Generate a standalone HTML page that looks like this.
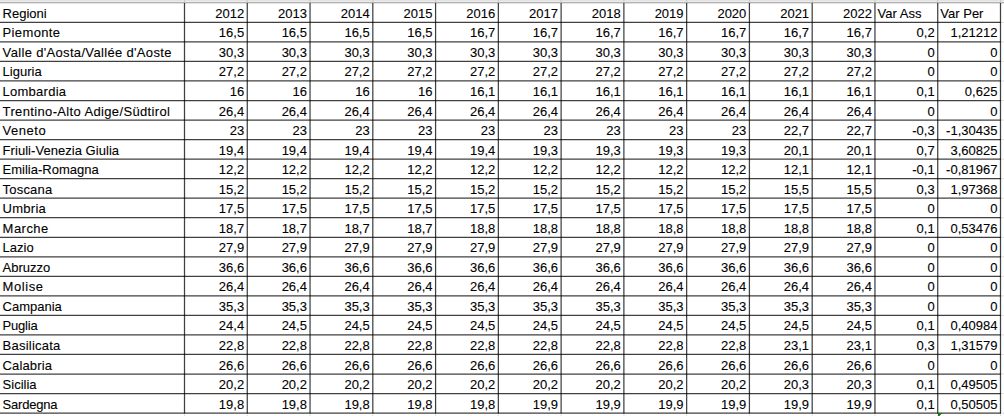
<!DOCTYPE html>
<html><head><meta charset="utf-8"><style>
html,body{margin:0;padding:0;background:#fff;}
body{width:1004px;height:416px;overflow:hidden;position:relative;}
svg{position:absolute;left:0;top:0;}
.t{position:absolute;font-family:"Liberation Sans",sans-serif;font-size:13px;color:#000;white-space:pre;line-height:0;height:0;-webkit-text-stroke:0.1px #000;}
.t::before{content:"";}
</style></head><body>
<svg width="1004" height="416" viewBox="0 0 1004 416">
<g>
<rect x="0" y="0" width="1004" height="1" fill="#e3e3e3"/>
<rect x="0" y="1" width="1004" height="1" fill="#ebebeb"/>
<rect x="0" y="2" width="1004" height="1" fill="#b3b3b3"/>
<rect x="0" y="3" width="1004" height="1" fill="#e2e2e2"/>
<line x1="1002.0" y1="22.39" x2="1004" y2="22.39" stroke="#dadada" stroke-width="1"/>
<line x1="1002.0" y1="41.92" x2="1004" y2="41.92" stroke="#dadada" stroke-width="1"/>
<line x1="1002.0" y1="61.46" x2="1004" y2="61.46" stroke="#dadada" stroke-width="1"/>
<line x1="1002.0" y1="80.99" x2="1004" y2="80.99" stroke="#dadada" stroke-width="1"/>
<line x1="1002.0" y1="100.53" x2="1004" y2="100.53" stroke="#dadada" stroke-width="1"/>
<line x1="1002.0" y1="120.06" x2="1004" y2="120.06" stroke="#dadada" stroke-width="1"/>
<line x1="1002.0" y1="139.60" x2="1004" y2="139.60" stroke="#dadada" stroke-width="1"/>
<line x1="1002.0" y1="159.13" x2="1004" y2="159.13" stroke="#dadada" stroke-width="1"/>
<line x1="1002.0" y1="178.67" x2="1004" y2="178.67" stroke="#dadada" stroke-width="1"/>
<line x1="1002.0" y1="198.20" x2="1004" y2="198.20" stroke="#dadada" stroke-width="1"/>
<line x1="1002.0" y1="217.74" x2="1004" y2="217.74" stroke="#dadada" stroke-width="1"/>
<line x1="1002.0" y1="237.27" x2="1004" y2="237.27" stroke="#dadada" stroke-width="1"/>
<line x1="1002.0" y1="256.80" x2="1004" y2="256.80" stroke="#dadada" stroke-width="1"/>
<line x1="1002.0" y1="276.34" x2="1004" y2="276.34" stroke="#dadada" stroke-width="1"/>
<line x1="1002.0" y1="295.87" x2="1004" y2="295.87" stroke="#dadada" stroke-width="1"/>
<line x1="1002.0" y1="315.41" x2="1004" y2="315.41" stroke="#dadada" stroke-width="1"/>
<line x1="1002.0" y1="334.94" x2="1004" y2="334.94" stroke="#dadada" stroke-width="1"/>
<line x1="1002.0" y1="354.48" x2="1004" y2="354.48" stroke="#dadada" stroke-width="1"/>
<line x1="1002.0" y1="374.01" x2="1004" y2="374.01" stroke="#dadada" stroke-width="1"/>
<line x1="1002.0" y1="393.55" x2="1004" y2="393.55" stroke="#dadada" stroke-width="1"/>
<line x1="1002.0" y1="413.08" x2="1004" y2="413.08" stroke="#dadada" stroke-width="1"/>
<line x1="184.50" y1="0" x2="184.50" y2="3.0" stroke="#b4b4b4" stroke-opacity="0.6" stroke-width="1"/>
<line x1="184.50" y1="3.0" x2="184.50" y2="413.58" stroke="#000" stroke-opacity="0.75" stroke-width="1.25"/>
<line x1="184.50" y1="414.58" x2="184.50" y2="416" stroke="#dadada" stroke-width="1"/>
<line x1="247.27" y1="0" x2="247.27" y2="3.0" stroke="#b4b4b4" stroke-opacity="0.6" stroke-width="1"/>
<line x1="247.27" y1="3.0" x2="247.27" y2="413.58" stroke="#000" stroke-opacity="0.75" stroke-width="1.25"/>
<line x1="247.27" y1="414.58" x2="247.27" y2="416" stroke="#dadada" stroke-width="1"/>
<line x1="310.04" y1="0" x2="310.04" y2="3.0" stroke="#b4b4b4" stroke-opacity="0.6" stroke-width="1"/>
<line x1="310.04" y1="3.0" x2="310.04" y2="413.58" stroke="#000" stroke-opacity="0.75" stroke-width="1.25"/>
<line x1="310.04" y1="414.58" x2="310.04" y2="416" stroke="#dadada" stroke-width="1"/>
<line x1="372.81" y1="0" x2="372.81" y2="3.0" stroke="#b4b4b4" stroke-opacity="0.6" stroke-width="1"/>
<line x1="372.81" y1="3.0" x2="372.81" y2="413.58" stroke="#000" stroke-opacity="0.75" stroke-width="1.25"/>
<line x1="372.81" y1="414.58" x2="372.81" y2="416" stroke="#dadada" stroke-width="1"/>
<line x1="435.58" y1="0" x2="435.58" y2="3.0" stroke="#b4b4b4" stroke-opacity="0.6" stroke-width="1"/>
<line x1="435.58" y1="3.0" x2="435.58" y2="413.58" stroke="#000" stroke-opacity="0.75" stroke-width="1.25"/>
<line x1="435.58" y1="414.58" x2="435.58" y2="416" stroke="#dadada" stroke-width="1"/>
<line x1="498.35" y1="0" x2="498.35" y2="3.0" stroke="#b4b4b4" stroke-opacity="0.6" stroke-width="1"/>
<line x1="498.35" y1="3.0" x2="498.35" y2="413.58" stroke="#000" stroke-opacity="0.75" stroke-width="1.25"/>
<line x1="498.35" y1="414.58" x2="498.35" y2="416" stroke="#dadada" stroke-width="1"/>
<line x1="561.12" y1="0" x2="561.12" y2="3.0" stroke="#b4b4b4" stroke-opacity="0.6" stroke-width="1"/>
<line x1="561.12" y1="3.0" x2="561.12" y2="413.58" stroke="#000" stroke-opacity="0.75" stroke-width="1.25"/>
<line x1="561.12" y1="414.58" x2="561.12" y2="416" stroke="#dadada" stroke-width="1"/>
<line x1="623.88" y1="0" x2="623.88" y2="3.0" stroke="#b4b4b4" stroke-opacity="0.6" stroke-width="1"/>
<line x1="623.88" y1="3.0" x2="623.88" y2="413.58" stroke="#000" stroke-opacity="0.75" stroke-width="1.25"/>
<line x1="623.88" y1="414.58" x2="623.88" y2="416" stroke="#dadada" stroke-width="1"/>
<line x1="686.65" y1="0" x2="686.65" y2="3.0" stroke="#b4b4b4" stroke-opacity="0.6" stroke-width="1"/>
<line x1="686.65" y1="3.0" x2="686.65" y2="413.58" stroke="#000" stroke-opacity="0.75" stroke-width="1.25"/>
<line x1="686.65" y1="414.58" x2="686.65" y2="416" stroke="#dadada" stroke-width="1"/>
<line x1="749.42" y1="0" x2="749.42" y2="3.0" stroke="#b4b4b4" stroke-opacity="0.6" stroke-width="1"/>
<line x1="749.42" y1="3.0" x2="749.42" y2="413.58" stroke="#000" stroke-opacity="0.75" stroke-width="1.25"/>
<line x1="749.42" y1="414.58" x2="749.42" y2="416" stroke="#dadada" stroke-width="1"/>
<line x1="812.19" y1="0" x2="812.19" y2="3.0" stroke="#b4b4b4" stroke-opacity="0.6" stroke-width="1"/>
<line x1="812.19" y1="3.0" x2="812.19" y2="413.58" stroke="#000" stroke-opacity="0.75" stroke-width="1.25"/>
<line x1="812.19" y1="414.58" x2="812.19" y2="416" stroke="#dadada" stroke-width="1"/>
<line x1="874.96" y1="0" x2="874.96" y2="3.0" stroke="#b4b4b4" stroke-opacity="0.6" stroke-width="1"/>
<line x1="874.96" y1="3.0" x2="874.96" y2="413.58" stroke="#000" stroke-opacity="0.75" stroke-width="1.25"/>
<line x1="874.96" y1="414.58" x2="874.96" y2="416" stroke="#dadada" stroke-width="1"/>
<line x1="937.73" y1="0" x2="937.73" y2="3.0" stroke="#b4b4b4" stroke-opacity="0.6" stroke-width="1"/>
<line x1="937.73" y1="3.0" x2="937.73" y2="413.58" stroke="#000" stroke-opacity="0.75" stroke-width="1.25"/>
<line x1="937.73" y1="414.58" x2="937.73" y2="416" stroke="#dadada" stroke-width="1"/>
<line x1="1000.50" y1="0" x2="1000.50" y2="3.0" stroke="#b4b4b4" stroke-opacity="0.6" stroke-width="1"/>
<line x1="1000.50" y1="3.0" x2="1000.50" y2="413.58" stroke="#000" stroke-opacity="0.75" stroke-width="1.25"/>
<line x1="1000.50" y1="414.58" x2="1000.50" y2="416" stroke="#dadada" stroke-width="1"/>
<line x1="0" y1="22.39" x2="1001.00" y2="22.39" stroke="#000" stroke-opacity="0.75" stroke-width="1.25"/>
<line x1="0" y1="41.92" x2="1001.00" y2="41.92" stroke="#000" stroke-opacity="0.75" stroke-width="1.25"/>
<line x1="0" y1="61.46" x2="1001.00" y2="61.46" stroke="#000" stroke-opacity="0.75" stroke-width="1.25"/>
<line x1="0" y1="80.99" x2="1001.00" y2="80.99" stroke="#000" stroke-opacity="0.75" stroke-width="1.25"/>
<line x1="0" y1="100.53" x2="1001.00" y2="100.53" stroke="#000" stroke-opacity="0.75" stroke-width="1.25"/>
<line x1="0" y1="120.06" x2="1001.00" y2="120.06" stroke="#000" stroke-opacity="0.75" stroke-width="1.25"/>
<line x1="0" y1="139.60" x2="1001.00" y2="139.60" stroke="#000" stroke-opacity="0.75" stroke-width="1.25"/>
<line x1="0" y1="159.13" x2="1001.00" y2="159.13" stroke="#000" stroke-opacity="0.75" stroke-width="1.25"/>
<line x1="0" y1="178.67" x2="1001.00" y2="178.67" stroke="#000" stroke-opacity="0.75" stroke-width="1.25"/>
<line x1="0" y1="198.20" x2="1001.00" y2="198.20" stroke="#000" stroke-opacity="0.75" stroke-width="1.25"/>
<line x1="0" y1="217.74" x2="1001.00" y2="217.74" stroke="#000" stroke-opacity="0.75" stroke-width="1.25"/>
<line x1="0" y1="237.27" x2="1001.00" y2="237.27" stroke="#000" stroke-opacity="0.75" stroke-width="1.25"/>
<line x1="0" y1="256.80" x2="1001.00" y2="256.80" stroke="#000" stroke-opacity="0.75" stroke-width="1.25"/>
<line x1="0" y1="276.34" x2="1001.00" y2="276.34" stroke="#000" stroke-opacity="0.75" stroke-width="1.25"/>
<line x1="0" y1="295.87" x2="1001.00" y2="295.87" stroke="#000" stroke-opacity="0.75" stroke-width="1.25"/>
<line x1="0" y1="315.41" x2="1001.00" y2="315.41" stroke="#000" stroke-opacity="0.75" stroke-width="1.25"/>
<line x1="0" y1="334.94" x2="1001.00" y2="334.94" stroke="#000" stroke-opacity="0.75" stroke-width="1.25"/>
<line x1="0" y1="354.48" x2="1001.00" y2="354.48" stroke="#000" stroke-opacity="0.75" stroke-width="1.25"/>
<line x1="0" y1="374.01" x2="1001.00" y2="374.01" stroke="#000" stroke-opacity="0.75" stroke-width="1.25"/>
<line x1="0" y1="393.55" x2="1001.00" y2="393.55" stroke="#000" stroke-opacity="0.75" stroke-width="1.25"/>
<line x1="0" y1="413.08" x2="1001.00" y2="413.08" stroke="#000" stroke-opacity="0.75" stroke-width="1.25"/>
<polygon points="938,412.9 942.5,412.9 938,417.4" fill="#0a7d0a"/>
</g>
</svg>
<div class="t" style="left:2.60px;top:13.89px;">Regioni</div>
<div class="t r" style="right:759.83px;top:13.89px;">2012</div>
<div class="t r" style="right:697.06px;top:13.89px;">2013</div>
<div class="t r" style="right:634.29px;top:13.89px;">2014</div>
<div class="t r" style="right:571.52px;top:13.89px;">2015</div>
<div class="t r" style="right:508.75px;top:13.89px;">2016</div>
<div class="t r" style="right:445.98px;top:13.89px;">2017</div>
<div class="t r" style="right:383.22px;top:13.89px;">2018</div>
<div class="t r" style="right:320.45px;top:13.89px;">2019</div>
<div class="t r" style="right:257.68px;top:13.89px;">2020</div>
<div class="t r" style="right:194.91px;top:13.89px;">2021</div>
<div class="t r" style="right:132.14px;top:13.89px;">2022</div>
<div class="t" style="left:877.56px;top:13.89px;">Var Ass</div>
<div class="t" style="left:940.33px;top:13.89px;">Var Per</div>
<div class="t" style="left:2.60px;top:33.42px;letter-spacing:0.36px;">Piemonte</div>
<div class="t r" style="right:759.83px;top:33.42px;">16,5</div>
<div class="t r" style="right:697.06px;top:33.42px;">16,5</div>
<div class="t r" style="right:634.29px;top:33.42px;">16,5</div>
<div class="t r" style="right:571.52px;top:33.42px;">16,5</div>
<div class="t r" style="right:508.75px;top:33.42px;">16,7</div>
<div class="t r" style="right:445.98px;top:33.42px;">16,7</div>
<div class="t r" style="right:383.22px;top:33.42px;">16,7</div>
<div class="t r" style="right:320.45px;top:33.42px;">16,7</div>
<div class="t r" style="right:257.68px;top:33.42px;">16,7</div>
<div class="t r" style="right:194.91px;top:33.42px;">16,7</div>
<div class="t r" style="right:132.14px;top:33.42px;">16,7</div>
<div class="t r" style="right:69.37px;top:33.42px;">0,2</div>
<div class="t r" style="right:6.60px;top:33.42px;">1,21212</div>
<div class="t" style="left:2.60px;top:52.96px;letter-spacing:0.331px;">Valle d&#x27;Aosta/Vallée d&#x27;Aoste</div>
<div class="t r" style="right:759.83px;top:52.96px;">30,3</div>
<div class="t r" style="right:697.06px;top:52.96px;">30,3</div>
<div class="t r" style="right:634.29px;top:52.96px;">30,3</div>
<div class="t r" style="right:571.52px;top:52.96px;">30,3</div>
<div class="t r" style="right:508.75px;top:52.96px;">30,3</div>
<div class="t r" style="right:445.98px;top:52.96px;">30,3</div>
<div class="t r" style="right:383.22px;top:52.96px;">30,3</div>
<div class="t r" style="right:320.45px;top:52.96px;">30,3</div>
<div class="t r" style="right:257.68px;top:52.96px;">30,3</div>
<div class="t r" style="right:194.91px;top:52.96px;">30,3</div>
<div class="t r" style="right:132.14px;top:52.96px;">30,3</div>
<div class="t r" style="right:69.37px;top:52.96px;">0</div>
<div class="t r" style="right:6.60px;top:52.96px;">0</div>
<div class="t" style="left:2.60px;top:72.49px;">Liguria</div>
<div class="t r" style="right:759.83px;top:72.49px;">27,2</div>
<div class="t r" style="right:697.06px;top:72.49px;">27,2</div>
<div class="t r" style="right:634.29px;top:72.49px;">27,2</div>
<div class="t r" style="right:571.52px;top:72.49px;">27,2</div>
<div class="t r" style="right:508.75px;top:72.49px;">27,2</div>
<div class="t r" style="right:445.98px;top:72.49px;">27,2</div>
<div class="t r" style="right:383.22px;top:72.49px;">27,2</div>
<div class="t r" style="right:320.45px;top:72.49px;">27,2</div>
<div class="t r" style="right:257.68px;top:72.49px;">27,2</div>
<div class="t r" style="right:194.91px;top:72.49px;">27,2</div>
<div class="t r" style="right:132.14px;top:72.49px;">27,2</div>
<div class="t r" style="right:69.37px;top:72.49px;">0</div>
<div class="t r" style="right:6.60px;top:72.49px;">0</div>
<div class="t" style="left:2.60px;top:92.03px;letter-spacing:0.247px;">Lombardia</div>
<div class="t r" style="right:759.83px;top:92.03px;">16</div>
<div class="t r" style="right:697.06px;top:92.03px;">16</div>
<div class="t r" style="right:634.29px;top:92.03px;">16</div>
<div class="t r" style="right:571.52px;top:92.03px;">16</div>
<div class="t r" style="right:508.75px;top:92.03px;">16,1</div>
<div class="t r" style="right:445.98px;top:92.03px;">16,1</div>
<div class="t r" style="right:383.22px;top:92.03px;">16,1</div>
<div class="t r" style="right:320.45px;top:92.03px;">16,1</div>
<div class="t r" style="right:257.68px;top:92.03px;">16,1</div>
<div class="t r" style="right:194.91px;top:92.03px;">16,1</div>
<div class="t r" style="right:132.14px;top:92.03px;">16,1</div>
<div class="t r" style="right:69.37px;top:92.03px;">0,1</div>
<div class="t r" style="right:6.60px;top:92.03px;">0,625</div>
<div class="t" style="left:2.60px;top:111.56px;letter-spacing:0.356px;">Trentino-Alto Adige/Südtirol</div>
<div class="t r" style="right:759.83px;top:111.56px;">26,4</div>
<div class="t r" style="right:697.06px;top:111.56px;">26,4</div>
<div class="t r" style="right:634.29px;top:111.56px;">26,4</div>
<div class="t r" style="right:571.52px;top:111.56px;">26,4</div>
<div class="t r" style="right:508.75px;top:111.56px;">26,4</div>
<div class="t r" style="right:445.98px;top:111.56px;">26,4</div>
<div class="t r" style="right:383.22px;top:111.56px;">26,4</div>
<div class="t r" style="right:320.45px;top:111.56px;">26,4</div>
<div class="t r" style="right:257.68px;top:111.56px;">26,4</div>
<div class="t r" style="right:194.91px;top:111.56px;">26,4</div>
<div class="t r" style="right:132.14px;top:111.56px;">26,4</div>
<div class="t r" style="right:69.37px;top:111.56px;">0</div>
<div class="t r" style="right:6.60px;top:111.56px;">0</div>
<div class="t" style="left:2.60px;top:131.10px;letter-spacing:0.509px;">Veneto</div>
<div class="t r" style="right:759.83px;top:131.10px;">23</div>
<div class="t r" style="right:697.06px;top:131.10px;">23</div>
<div class="t r" style="right:634.29px;top:131.10px;">23</div>
<div class="t r" style="right:571.52px;top:131.10px;">23</div>
<div class="t r" style="right:508.75px;top:131.10px;">23</div>
<div class="t r" style="right:445.98px;top:131.10px;">23</div>
<div class="t r" style="right:383.22px;top:131.10px;">23</div>
<div class="t r" style="right:320.45px;top:131.10px;">23</div>
<div class="t r" style="right:257.68px;top:131.10px;">23</div>
<div class="t r" style="right:194.91px;top:131.10px;">22,7</div>
<div class="t r" style="right:132.14px;top:131.10px;">22,7</div>
<div class="t r" style="right:69.37px;top:131.10px;">-0,3</div>
<div class="t r" style="right:6.60px;top:131.10px;">-1,30435</div>
<div class="t" style="left:2.60px;top:150.63px;letter-spacing:0.044px;">Friuli-Venezia Giulia</div>
<div class="t r" style="right:759.83px;top:150.63px;">19,4</div>
<div class="t r" style="right:697.06px;top:150.63px;">19,4</div>
<div class="t r" style="right:634.29px;top:150.63px;">19,4</div>
<div class="t r" style="right:571.52px;top:150.63px;">19,4</div>
<div class="t r" style="right:508.75px;top:150.63px;">19,4</div>
<div class="t r" style="right:445.98px;top:150.63px;">19,3</div>
<div class="t r" style="right:383.22px;top:150.63px;">19,3</div>
<div class="t r" style="right:320.45px;top:150.63px;">19,3</div>
<div class="t r" style="right:257.68px;top:150.63px;">19,3</div>
<div class="t r" style="right:194.91px;top:150.63px;">20,1</div>
<div class="t r" style="right:132.14px;top:150.63px;">20,1</div>
<div class="t r" style="right:69.37px;top:150.63px;">0,7</div>
<div class="t r" style="right:6.60px;top:150.63px;">3,60825</div>
<div class="t" style="left:2.60px;top:170.17px;">Emilia-Romagna</div>
<div class="t r" style="right:759.83px;top:170.17px;">12,2</div>
<div class="t r" style="right:697.06px;top:170.17px;">12,2</div>
<div class="t r" style="right:634.29px;top:170.17px;">12,2</div>
<div class="t r" style="right:571.52px;top:170.17px;">12,2</div>
<div class="t r" style="right:508.75px;top:170.17px;">12,2</div>
<div class="t r" style="right:445.98px;top:170.17px;">12,2</div>
<div class="t r" style="right:383.22px;top:170.17px;">12,2</div>
<div class="t r" style="right:320.45px;top:170.17px;">12,2</div>
<div class="t r" style="right:257.68px;top:170.17px;">12,2</div>
<div class="t r" style="right:194.91px;top:170.17px;">12,1</div>
<div class="t r" style="right:132.14px;top:170.17px;">12,1</div>
<div class="t r" style="right:69.37px;top:170.17px;">-0,1</div>
<div class="t r" style="right:6.60px;top:170.17px;">-0,81967</div>
<div class="t" style="left:2.60px;top:189.70px;letter-spacing:0.2px;">Toscana</div>
<div class="t r" style="right:759.83px;top:189.70px;">15,2</div>
<div class="t r" style="right:697.06px;top:189.70px;">15,2</div>
<div class="t r" style="right:634.29px;top:189.70px;">15,2</div>
<div class="t r" style="right:571.52px;top:189.70px;">15,2</div>
<div class="t r" style="right:508.75px;top:189.70px;">15,2</div>
<div class="t r" style="right:445.98px;top:189.70px;">15,2</div>
<div class="t r" style="right:383.22px;top:189.70px;">15,2</div>
<div class="t r" style="right:320.45px;top:189.70px;">15,2</div>
<div class="t r" style="right:257.68px;top:189.70px;">15,2</div>
<div class="t r" style="right:194.91px;top:189.70px;">15,5</div>
<div class="t r" style="right:132.14px;top:189.70px;">15,5</div>
<div class="t r" style="right:69.37px;top:189.70px;">0,3</div>
<div class="t r" style="right:6.60px;top:189.70px;">1,97368</div>
<div class="t" style="left:2.60px;top:209.24px;letter-spacing:0.273px;">Umbria</div>
<div class="t r" style="right:759.83px;top:209.24px;">17,5</div>
<div class="t r" style="right:697.06px;top:209.24px;">17,5</div>
<div class="t r" style="right:634.29px;top:209.24px;">17,5</div>
<div class="t r" style="right:571.52px;top:209.24px;">17,5</div>
<div class="t r" style="right:508.75px;top:209.24px;">17,5</div>
<div class="t r" style="right:445.98px;top:209.24px;">17,5</div>
<div class="t r" style="right:383.22px;top:209.24px;">17,5</div>
<div class="t r" style="right:320.45px;top:209.24px;">17,5</div>
<div class="t r" style="right:257.68px;top:209.24px;">17,5</div>
<div class="t r" style="right:194.91px;top:209.24px;">17,5</div>
<div class="t r" style="right:132.14px;top:209.24px;">17,5</div>
<div class="t r" style="right:69.37px;top:209.24px;">0</div>
<div class="t r" style="right:6.60px;top:209.24px;">0</div>
<div class="t" style="left:2.60px;top:228.77px;letter-spacing:0.473px;">Marche</div>
<div class="t r" style="right:759.83px;top:228.77px;">18,7</div>
<div class="t r" style="right:697.06px;top:228.77px;">18,7</div>
<div class="t r" style="right:634.29px;top:228.77px;">18,7</div>
<div class="t r" style="right:571.52px;top:228.77px;">18,7</div>
<div class="t r" style="right:508.75px;top:228.77px;">18,8</div>
<div class="t r" style="right:445.98px;top:228.77px;">18,8</div>
<div class="t r" style="right:383.22px;top:228.77px;">18,8</div>
<div class="t r" style="right:320.45px;top:228.77px;">18,8</div>
<div class="t r" style="right:257.68px;top:228.77px;">18,8</div>
<div class="t r" style="right:194.91px;top:228.77px;">18,8</div>
<div class="t r" style="right:132.14px;top:228.77px;">18,8</div>
<div class="t r" style="right:69.37px;top:228.77px;">0,1</div>
<div class="t r" style="right:6.60px;top:228.77px;">0,53476</div>
<div class="t" style="left:2.60px;top:248.30px;">Lazio</div>
<div class="t r" style="right:759.83px;top:248.30px;">27,9</div>
<div class="t r" style="right:697.06px;top:248.30px;">27,9</div>
<div class="t r" style="right:634.29px;top:248.30px;">27,9</div>
<div class="t r" style="right:571.52px;top:248.30px;">27,9</div>
<div class="t r" style="right:508.75px;top:248.30px;">27,9</div>
<div class="t r" style="right:445.98px;top:248.30px;">27,9</div>
<div class="t r" style="right:383.22px;top:248.30px;">27,9</div>
<div class="t r" style="right:320.45px;top:248.30px;">27,9</div>
<div class="t r" style="right:257.68px;top:248.30px;">27,9</div>
<div class="t r" style="right:194.91px;top:248.30px;">27,9</div>
<div class="t r" style="right:132.14px;top:248.30px;">27,9</div>
<div class="t r" style="right:69.37px;top:248.30px;">0</div>
<div class="t r" style="right:6.60px;top:248.30px;">0</div>
<div class="t" style="left:2.60px;top:267.84px;">Abruzzo</div>
<div class="t r" style="right:759.83px;top:267.84px;">36,6</div>
<div class="t r" style="right:697.06px;top:267.84px;">36,6</div>
<div class="t r" style="right:634.29px;top:267.84px;">36,6</div>
<div class="t r" style="right:571.52px;top:267.84px;">36,6</div>
<div class="t r" style="right:508.75px;top:267.84px;">36,6</div>
<div class="t r" style="right:445.98px;top:267.84px;">36,6</div>
<div class="t r" style="right:383.22px;top:267.84px;">36,6</div>
<div class="t r" style="right:320.45px;top:267.84px;">36,6</div>
<div class="t r" style="right:257.68px;top:267.84px;">36,6</div>
<div class="t r" style="right:194.91px;top:267.84px;">36,6</div>
<div class="t r" style="right:132.14px;top:267.84px;">36,6</div>
<div class="t r" style="right:69.37px;top:267.84px;">0</div>
<div class="t r" style="right:6.60px;top:267.84px;">0</div>
<div class="t" style="left:2.60px;top:287.37px;letter-spacing:0.564px;">Molise</div>
<div class="t r" style="right:759.83px;top:287.37px;">26,4</div>
<div class="t r" style="right:697.06px;top:287.37px;">26,4</div>
<div class="t r" style="right:634.29px;top:287.37px;">26,4</div>
<div class="t r" style="right:571.52px;top:287.37px;">26,4</div>
<div class="t r" style="right:508.75px;top:287.37px;">26,4</div>
<div class="t r" style="right:445.98px;top:287.37px;">26,4</div>
<div class="t r" style="right:383.22px;top:287.37px;">26,4</div>
<div class="t r" style="right:320.45px;top:287.37px;">26,4</div>
<div class="t r" style="right:257.68px;top:287.37px;">26,4</div>
<div class="t r" style="right:194.91px;top:287.37px;">26,4</div>
<div class="t r" style="right:132.14px;top:287.37px;">26,4</div>
<div class="t r" style="right:69.37px;top:287.37px;">0</div>
<div class="t r" style="right:6.60px;top:287.37px;">0</div>
<div class="t" style="left:2.60px;top:306.91px;">Campania</div>
<div class="t r" style="right:759.83px;top:306.91px;">35,3</div>
<div class="t r" style="right:697.06px;top:306.91px;">35,3</div>
<div class="t r" style="right:634.29px;top:306.91px;">35,3</div>
<div class="t r" style="right:571.52px;top:306.91px;">35,3</div>
<div class="t r" style="right:508.75px;top:306.91px;">35,3</div>
<div class="t r" style="right:445.98px;top:306.91px;">35,3</div>
<div class="t r" style="right:383.22px;top:306.91px;">35,3</div>
<div class="t r" style="right:320.45px;top:306.91px;">35,3</div>
<div class="t r" style="right:257.68px;top:306.91px;">35,3</div>
<div class="t r" style="right:194.91px;top:306.91px;">35,3</div>
<div class="t r" style="right:132.14px;top:306.91px;">35,3</div>
<div class="t r" style="right:69.37px;top:306.91px;">0</div>
<div class="t r" style="right:6.60px;top:306.91px;">0</div>
<div class="t" style="left:2.60px;top:326.44px;letter-spacing:-0.2px;">Puglia</div>
<div class="t r" style="right:759.83px;top:326.44px;">24,4</div>
<div class="t r" style="right:697.06px;top:326.44px;">24,5</div>
<div class="t r" style="right:634.29px;top:326.44px;">24,5</div>
<div class="t r" style="right:571.52px;top:326.44px;">24,5</div>
<div class="t r" style="right:508.75px;top:326.44px;">24,5</div>
<div class="t r" style="right:445.98px;top:326.44px;">24,5</div>
<div class="t r" style="right:383.22px;top:326.44px;">24,5</div>
<div class="t r" style="right:320.45px;top:326.44px;">24,5</div>
<div class="t r" style="right:257.68px;top:326.44px;">24,5</div>
<div class="t r" style="right:194.91px;top:326.44px;">24,5</div>
<div class="t r" style="right:132.14px;top:326.44px;">24,5</div>
<div class="t r" style="right:69.37px;top:326.44px;">0,1</div>
<div class="t r" style="right:6.60px;top:326.44px;">0,40984</div>
<div class="t" style="left:2.60px;top:345.98px;letter-spacing:0.221px;">Basilicata</div>
<div class="t r" style="right:759.83px;top:345.98px;">22,8</div>
<div class="t r" style="right:697.06px;top:345.98px;">22,8</div>
<div class="t r" style="right:634.29px;top:345.98px;">22,8</div>
<div class="t r" style="right:571.52px;top:345.98px;">22,8</div>
<div class="t r" style="right:508.75px;top:345.98px;">22,8</div>
<div class="t r" style="right:445.98px;top:345.98px;">22,8</div>
<div class="t r" style="right:383.22px;top:345.98px;">22,8</div>
<div class="t r" style="right:320.45px;top:345.98px;">22,8</div>
<div class="t r" style="right:257.68px;top:345.98px;">22,8</div>
<div class="t r" style="right:194.91px;top:345.98px;">23,1</div>
<div class="t r" style="right:132.14px;top:345.98px;">23,1</div>
<div class="t r" style="right:69.37px;top:345.98px;">0,3</div>
<div class="t r" style="right:6.60px;top:345.98px;">1,31579</div>
<div class="t" style="left:2.60px;top:365.51px;letter-spacing:0.133px;">Calabria</div>
<div class="t r" style="right:759.83px;top:365.51px;">26,6</div>
<div class="t r" style="right:697.06px;top:365.51px;">26,6</div>
<div class="t r" style="right:634.29px;top:365.51px;">26,6</div>
<div class="t r" style="right:571.52px;top:365.51px;">26,6</div>
<div class="t r" style="right:508.75px;top:365.51px;">26,6</div>
<div class="t r" style="right:445.98px;top:365.51px;">26,6</div>
<div class="t r" style="right:383.22px;top:365.51px;">26,6</div>
<div class="t r" style="right:320.45px;top:365.51px;">26,6</div>
<div class="t r" style="right:257.68px;top:365.51px;">26,6</div>
<div class="t r" style="right:194.91px;top:365.51px;">26,6</div>
<div class="t r" style="right:132.14px;top:365.51px;">26,6</div>
<div class="t r" style="right:69.37px;top:365.51px;">0</div>
<div class="t r" style="right:6.60px;top:365.51px;">0</div>
<div class="t" style="left:2.60px;top:385.05px;">Sicilia</div>
<div class="t r" style="right:759.83px;top:385.05px;">20,2</div>
<div class="t r" style="right:697.06px;top:385.05px;">20,2</div>
<div class="t r" style="right:634.29px;top:385.05px;">20,2</div>
<div class="t r" style="right:571.52px;top:385.05px;">20,2</div>
<div class="t r" style="right:508.75px;top:385.05px;">20,2</div>
<div class="t r" style="right:445.98px;top:385.05px;">20,2</div>
<div class="t r" style="right:383.22px;top:385.05px;">20,2</div>
<div class="t r" style="right:320.45px;top:385.05px;">20,2</div>
<div class="t r" style="right:257.68px;top:385.05px;">20,2</div>
<div class="t r" style="right:194.91px;top:385.05px;">20,3</div>
<div class="t r" style="right:132.14px;top:385.05px;">20,3</div>
<div class="t r" style="right:69.37px;top:385.05px;">0,1</div>
<div class="t r" style="right:6.60px;top:385.05px;">0,49505</div>
<div class="t" style="left:2.60px;top:404.58px;letter-spacing:-0.2px;">Sardegna</div>
<div class="t r" style="right:759.83px;top:404.58px;">19,8</div>
<div class="t r" style="right:697.06px;top:404.58px;">19,8</div>
<div class="t r" style="right:634.29px;top:404.58px;">19,8</div>
<div class="t r" style="right:571.52px;top:404.58px;">19,8</div>
<div class="t r" style="right:508.75px;top:404.58px;">19,8</div>
<div class="t r" style="right:445.98px;top:404.58px;">19,9</div>
<div class="t r" style="right:383.22px;top:404.58px;">19,9</div>
<div class="t r" style="right:320.45px;top:404.58px;">19,9</div>
<div class="t r" style="right:257.68px;top:404.58px;">19,9</div>
<div class="t r" style="right:194.91px;top:404.58px;">19,9</div>
<div class="t r" style="right:132.14px;top:404.58px;">19,9</div>
<div class="t r" style="right:69.37px;top:404.58px;">0,1</div>
<div class="t r" style="right:6.60px;top:404.58px;">0,50505</div>
</body></html>
